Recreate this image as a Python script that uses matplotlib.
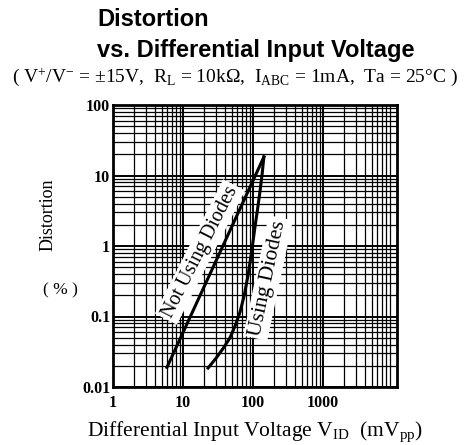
import numpy as np
import matplotlib
matplotlib.use("Agg")
import matplotlib.pyplot as plt
from matplotlib.ticker import LogLocator, NullFormatter, FixedLocator

plt.rcParams["mathtext.fontset"] = "custom"
plt.rcParams["mathtext.rm"] = "Liberation Serif"
plt.rcParams["mathtext.it"] = "Liberation Serif:italic"

# Data
not_using_x = [5.9, 143]
not_using_y = [0.019, 18.3]
using_x = [22.8, 30, 38, 46.9, 56, 65.2, 75, 84.8, 96, 107, 117, 126, 135, 143]
using_y = [0.0186, 0.026, 0.036, 0.050, 0.075, 0.115, 0.20, 0.38, 0.85, 1.9, 3.5, 6.0, 10.5, 18.3]
xticks = [1, 10, 100, 1000]
xtick_labels = ["1", "10", "100", "1000"]
yticks = [0.01, 0.1, 1, 10, 100]
ytick_labels = ["0.01", "0.1", "1", "10", "100"]

serif = ["Liberation Serif", "DejaVu Serif"]

fig = plt.figure(figsize=(4.70, 4.45), dpi=100)
W, H = 470, 445
ax = fig.add_axes([113 / W, 1 - 387 / H, (397 - 113) / W, (387 - 105) / H])
ax.set_xscale("log")
ax.set_yscale("log")
ax.set_xlim(1, 10 ** (284 / 70))
ax.set_ylim(0.01, 100)

ax.xaxis.set_major_locator(FixedLocator(xticks))
ax.set_xticklabels(xtick_labels, fontfamily=serif, fontsize=11.5)
ax.yaxis.set_major_locator(FixedLocator(yticks))
ax.set_yticklabels(ytick_labels, fontfamily=serif, fontsize=11.5)
ax.xaxis.set_minor_locator(LogLocator(base=10, subs=np.arange(2, 10), numticks=20))
ax.yaxis.set_minor_locator(LogLocator(base=10, subs=np.arange(2, 10), numticks=20))
ax.xaxis.set_minor_formatter(NullFormatter())
ax.yaxis.set_minor_formatter(NullFormatter())
ax.tick_params(which="both", length=0)
ax.tick_params(axis="x", pad=6)
ax.tick_params(axis="y", pad=2)
for lab in ax.get_xticklabels() + ax.get_yticklabels():
    lab.set_fontweight("bold")

ax.grid(which="major", color="black", lw=1.4)
ax.grid(which="minor", color="black", lw=0.9)
for s in ax.spines.values():
    s.set_linewidth(2)

ax.plot(not_using_x, not_using_y, color="black", lw=2.2, zorder=5)
ax.plot(using_x, using_y, color="black", lw=2.2, zorder=5)

bbox = dict(facecolor="white", edgecolor="none", pad=2)
ax.text(10 ** ((200 - 113) / 70), 10 ** (-2 + (387 - 252) / 70.5), "Not Using Diodes",
        rotation=63, ha="center", va="center", fontfamily=serif, fontsize=14.5,
        bbox=bbox, zorder=4, rotation_mode="anchor")
ax.text(10 ** ((268 - 113) / 70), 10 ** (-2 + (387 - 278) / 70.5), "Using Diodes",
        rotation=78, ha="center", va="center", fontfamily=serif, fontsize=15.5,
        bbox=bbox, zorder=4, rotation_mode="anchor")

fig.text(97 / W, 1 - 20 / H, "Distortion", fontfamily=["Liberation Sans", "DejaVu Sans"],
         fontweight="bold", fontsize=17, ha="left", va="center")
fig.text(97 / W, 1 - 50 / H, "vs. Differential Input Voltage",
         fontfamily=["Liberation Sans", "DejaVu Sans"],
         fontweight="bold", fontsize=17, ha="left", va="center")
fig.text(235 / W, 1 - 77 / H,
         "( V$^{+}$/V$^{-}$ = ±15V,  R$_{\\mathrm{L}}$ = 10kΩ,  I$_{\\mathrm{ABC}}$ = 1mA,  Ta = 25°C )",
         fontfamily=serif, fontsize=14, ha="center", va="center")

fig.text(48 / W, 1 - 215 / H, "Distortion", rotation=90, fontfamily=serif,
         fontsize=13, ha="center", va="center")
fig.text(60 / W, 1 - 290 / H, "( % )", fontfamily=serif, fontsize=12.5,
         ha="center", va="center")
fig.text(255 / W, 1 - 432 / H,
         "Differential Input Voltage V$_{\\mathrm{ID}}$  (mV$_{\\mathrm{pp}}$)",
         fontfamily=serif, fontsize=15.5, ha="center", va="center")

fig.savefig("out.png", dpi=100)
